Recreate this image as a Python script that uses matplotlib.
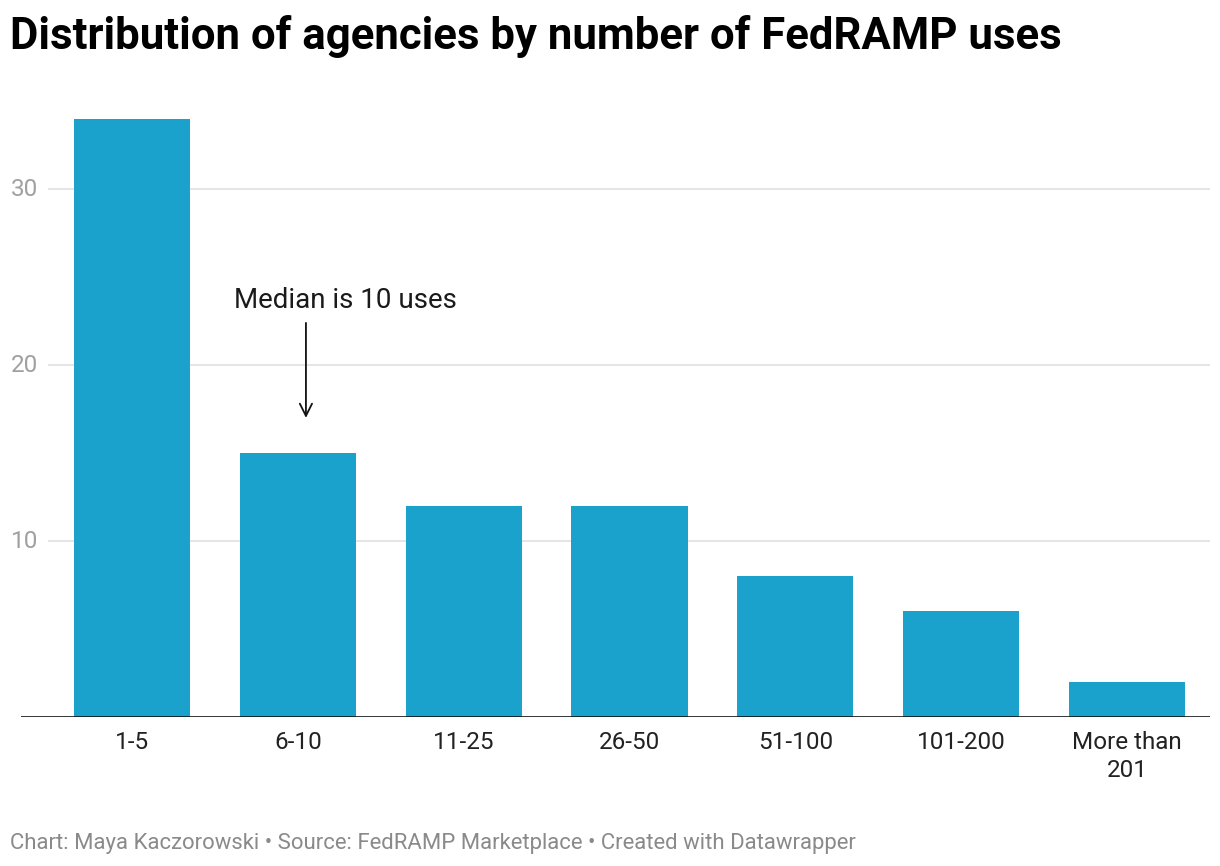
import matplotlib
matplotlib.use("Agg")
import matplotlib.pyplot as plt

# Data
categories = ["1-5", "6-10", "11-25", "26-50", "51-100", "101-200", "More than\n201"]
agencies = [34, 15, 12, 12, 8, 6, 2]
y_ticks = [10, 20, 30]

bar_color = "#1aa1cc"

plt.rcParams['font.family'] = ['Roboto', 'DejaVu Sans']

W, H = 1220, 866
fig = plt.figure(figsize=(W / 100, H / 100), dpi=100)

# axes box in pixel positions
left, right, top, bottom = 21, 1210, 110, 717
ax = fig.add_axes([left / W, 1 - bottom / H, (right - left) / W, (bottom - top) / H])

x = list(range(len(categories)))
ax.bar(x, agencies, width=0.7, color=bar_color, zorder=2)

ax.set_xlim(-0.669, 6.50)
ax.set_ylim(0, 34.5)

# gridlines start right of the tick labels
grid_start = (49 - left) / (right - left)
for t in y_ticks:
    ax.axhline(t, xmin=grid_start, xmax=1, color="#e3e3e3", lw=1.3, zorder=1)
    ax.text((38 - left) / (right - left), t, str(t), transform=ax.get_yaxis_transform(),
            ha="right", va="center", fontsize=17.5, color="#a0a0a0")

ax.axhline(0, color="#111111", lw=1.9, zorder=3)

for s in ax.spines.values():
    s.set_visible(False)
ax.set_yticks([])
ax.set_xticks(x)
ax.set_xticklabels(categories, fontsize=17.5, color="#222222", linespacing=1.3)
ax.tick_params(axis="x", length=0, pad=10, labelcolor="#222222")
for lbl in ax.get_xticklabels():
    lbl.set_verticalalignment("top")

# median annotation
ax.annotate("", xy=(1.049, 17.0), xytext=(1.049, 22.4),
            arrowprops=dict(arrowstyle="->", color="#111111", lw=1.3,
                            mutation_scale=22, shrinkA=0, shrinkB=0))
ax.text(1.285, 23.7, "Median is 10 uses", ha="center", va="center",
        fontsize=20, color="#1a1a1a")

fig.text(10 / W, 1 - 37 / H, "Distribution of agencies by number of FedRAMP uses",
         fontsize=31.5, fontweight="bold", color="#000000", ha="left", va="center")
fig.text(10 / W, 1 - 843 / H,
         "Chart: Maya Kaczorowski \u2022 Source: FedRAMP Marketplace \u2022 Created with Datawrapper",
         fontsize=15.9, color="#8a8a8a", ha="left", va="center")

fig.savefig("out.png", dpi=100, facecolor="white")
